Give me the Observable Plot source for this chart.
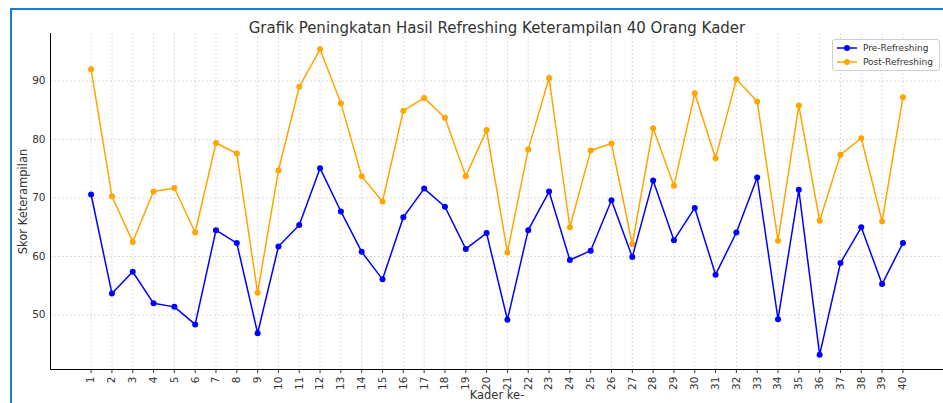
<!DOCTYPE html>
<html>
<head>
<meta charset="utf-8">
<script src="https://cdn.jsdelivr.net/npm/d3@7"></script>
<script src="https://cdn.jsdelivr.net/npm/@observablehq/plot@0.6"></script>
<style>
  html, body { margin: 0; padding: 0; background: #fff; }
  #wrap { position: relative; width: 943px; height: 403px; overflow: hidden; font-family: "DejaVu Sans", sans-serif; }
  #frame { position: absolute; left: 10px; top: 8px; width: 960px; height: 420px; border-top: 2px solid #1f7bc7; border-left: 2px solid #1f7bc7; pointer-events: none; }
  #legend { position: absolute; left: 832px; top: 39px; width: 106px; height: 30px; border: 1px solid #d0d0d0; border-radius: 3px; background: rgba(255,255,255,0.85); font-size: 9px; color: #333; }
  .row { position: absolute; left: 4px; height: 12px; display: flex; align-items: center; }
  .row svg { margin-right: 6px; }
</style>
</head>
<body>
<div id="wrap">
  <div id="chart"></div>
  <div id="legend"></div>
  <div id="frame"></div>
</div>
<script>
const title = "Grafik Peningkatan Hasil Refreshing Keterampilan 40 Orang Kader";
const xLabel = "Kader ke-";
const yLabel = "Skor Keterampilan";
const seriesNames = ["Pre-Refreshing", "Post-Refreshing"];
const seriesColors = ["blue", "orange"];
const kader = [1,2,3,4,5,6,7,8,9,10,11,12,13,14,15,16,17,18,19,20,21,22,23,24,25,26,27,28,29,30,31,32,33,34,35,36,37,38,39,40];
const pre = [70.6,53.7,57.4,52.0,51.4,48.4,64.5,62.3,46.9,61.7,65.4,75.1,67.7,60.8,56.1,66.7,71.6,68.5,61.3,64.0,49.2,64.5,71.1,59.4,61.0,69.6,59.9,73.0,62.8,68.3,56.9,64.1,73.5,49.3,71.4,43.2,58.9,65.0,55.3,62.3];
const post = [92.0,70.3,62.5,71.1,71.7,64.1,79.4,77.6,53.8,74.7,89.0,95.4,86.2,73.7,69.4,84.9,87.1,83.7,73.7,81.6,60.7,78.3,90.5,65.0,78.1,79.3,62.1,81.9,72.1,87.9,76.8,90.3,86.5,62.7,85.8,66.1,77.4,80.2,66.0,87.2];
const yTicks = [50,60,70,80,90];

const preData = kader.map((k, i) => ({kader: k, skor: pre[i]}));
const postData = kader.map((k, i) => ({kader: k, skor: post[i]}));
const xDomain = [-0.95, 41.95];
const yDomain = [40.7, 98.1];

const gridStyle = {stroke: "#b0b0b0", strokeOpacity: 0.55, strokeDasharray: "2,2", strokeWidth: 0.8};

const chart = Plot.plot({
  width: 943,
  height: 403,
  marginLeft: 50,
  marginRight: 0,
  marginTop: 33,
  marginBottom: 34,
  style: {fontFamily: "DejaVu Sans, sans-serif", fontSize: "10.5px", color: "#333", background: "white", overflow: "visible"},
  x: {domain: xDomain},
  y: {domain: yDomain},
  marks: [
    Plot.gridX(kader, gridStyle),
    Plot.gridY(yTicks, gridStyle),
    Plot.axisY(yTicks, {tickSize: 0, tickPadding: 5, label: null, fontSize: 10.5}),
    Plot.axisY([], {tickSize: 0, label: yLabel, labelAnchor: "center", labelArrow: "none", labelOffset: 32, fontSize: 11.5}),
    Plot.axisX(kader, {tickSize: 4, tickRotate: -90, tickPadding: 3, tickFormat: d => String(d), label: null, fontSize: 10.5}),
    Plot.axisX([], {tickSize: 0, label: xLabel, labelAnchor: "center", labelArrow: "none", labelOffset: 29, fontSize: 11.5}),
    Plot.ruleX([xDomain[0]], {stroke: "#000", strokeWidth: 1}),
    Plot.ruleY([yDomain[0]], {stroke: "#000", strokeWidth: 1}),
    Plot.line(postData, {x: "kader", y: "skor", stroke: seriesColors[1], strokeWidth: 1.5}),
    Plot.dot(postData, {x: "kader", y: "skor", fill: seriesColors[1], r: 3}),
    Plot.line(preData, {x: "kader", y: "skor", stroke: seriesColors[0], strokeWidth: 1.5}),
    Plot.dot(preData, {x: "kader", y: "skor", fill: seriesColors[0], r: 3}),
    Plot.text([title], {frameAnchor: "top", dy: -11, fontSize: 15, fill: "#333"})
  ]
});
document.getElementById("chart").appendChild(chart);

const legend = document.getElementById("legend");
seriesNames.forEach((name, i) => {
  const row = document.createElement("div");
  row.className = "row";
  row.style.top = (2 + i * 14) + "px";
  row.innerHTML = `<svg width="20" height="8"><line x1="0" y1="4" x2="20" y2="4" stroke="${seriesColors[i]}" stroke-width="1.5"/><circle cx="10" cy="4" r="3" fill="${seriesColors[i]}"/></svg><span>${name}</span>`;
  legend.appendChild(row);
});
</script>
</body>
</html>
